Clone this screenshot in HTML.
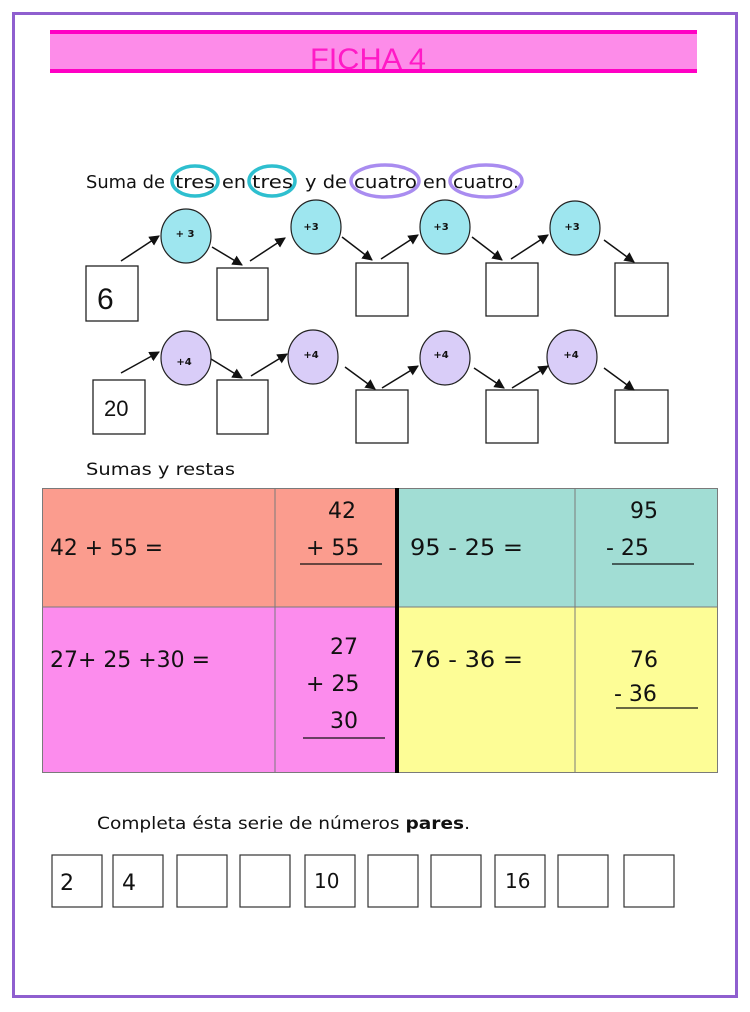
<!DOCTYPE html>
<html><head><meta charset="utf-8"><style>
html,body{margin:0;padding:0;background:#fff;}
svg{display:block}
text{font-family:"DejaVu Sans","Liberation Sans",sans-serif;fill:#111;}
</style></head><body>
<svg width="750" height="1012" viewBox="0 0 750 1012" xmlns="http://www.w3.org/2000/svg">
<defs><marker id="a" viewBox="0 0 10 10" refX="9" refY="5" markerWidth="7" markerHeight="7" orient="auto"><path d="M0,0 L10,5 L0,10 z" fill="#111"/></marker></defs>
<rect x="13.5" y="13.5" width="723" height="983" fill="none" stroke="#8f5fcf" stroke-width="3"/>
<rect x="50" y="31" width="647" height="42" fill="#fd8ce9"/>
<rect x="50" y="30" width="647" height="4" fill="#ff00c4"/>
<rect x="50" y="69" width="647" height="4" fill="#ff00c4"/>
<text x="310" y="69" font-size="30" style="fill:#ff1ac6;font-family:'Liberation Sans',sans-serif" textLength="116" lengthAdjust="spacingAndGlyphs">FICHA 4</text>

<g font-size="18">
<text x="86" y="188" textLength="79" lengthAdjust="spacingAndGlyphs">Suma de</text>
<text x="175" y="188" textLength="40" lengthAdjust="spacingAndGlyphs">tres</text>
<text x="222" y="188" textLength="24" lengthAdjust="spacingAndGlyphs">en</text>
<text x="252" y="188" textLength="41" lengthAdjust="spacingAndGlyphs">tres</text>
<text x="305" y="188" textLength="42" lengthAdjust="spacingAndGlyphs">y de</text>
<text x="354" y="188" textLength="63" lengthAdjust="spacingAndGlyphs">cuatro</text>
<text x="423" y="188" textLength="24" lengthAdjust="spacingAndGlyphs">en</text>
<text x="453" y="188" textLength="66" lengthAdjust="spacingAndGlyphs">cuatro.</text>
</g>
<ellipse cx="195" cy="181" rx="23" ry="15" fill="none" stroke="#2ebfcf" stroke-width="3.5"/>
<ellipse cx="272" cy="181" rx="23" ry="15" fill="none" stroke="#2ebfcf" stroke-width="3.5"/>
<ellipse cx="385" cy="181" rx="34" ry="16" fill="none" stroke="#a98cf0" stroke-width="3.5"/>
<ellipse cx="486" cy="181" rx="36" ry="16" fill="none" stroke="#a98cf0" stroke-width="3.5"/>

<g stroke="#222" stroke-width="1.2">
<ellipse cx="186" cy="236" rx="25" ry="27" fill="#9ee6ef"/>
<ellipse cx="316" cy="227" rx="25" ry="27" fill="#9ee6ef"/>
<ellipse cx="445" cy="227" rx="25" ry="27" fill="#9ee6ef"/>
<ellipse cx="575" cy="228" rx="25" ry="27" fill="#9ee6ef"/>
<ellipse cx="186" cy="358" rx="25" ry="27" fill="#d9cdf8"/>
<ellipse cx="313" cy="357" rx="25" ry="27" fill="#d9cdf8"/>
<ellipse cx="445" cy="358" rx="25" ry="27" fill="#d9cdf8"/>
<ellipse cx="572" cy="357" rx="25" ry="27" fill="#d9cdf8"/>
</g>
<g fill="#fff" stroke="#222" stroke-width="1.3">
<rect x="86" y="266" width="52" height="55"/><rect x="217" y="268" width="51" height="52"/>
<rect x="356" y="263" width="52" height="53"/><rect x="486" y="263" width="52" height="53"/><rect x="615" y="263" width="53" height="53"/>
<rect x="93" y="380" width="52" height="54"/><rect x="217" y="380" width="51" height="54"/>
<rect x="356" y="390" width="52" height="53"/><rect x="486" y="390" width="52" height="53"/><rect x="615" y="390" width="53" height="53"/>
</g>
<g stroke="#111" stroke-width="1.5" marker-end="url(#a)">
<line x1="121" y1="261" x2="159" y2="236"/><line x1="212" y1="247" x2="242" y2="265"/>
<line x1="250" y1="261" x2="285" y2="238"/><line x1="342" y1="237" x2="372" y2="260"/>
<line x1="381" y1="259" x2="418" y2="235"/><line x1="472" y1="237" x2="502" y2="260"/>
<line x1="511" y1="259" x2="548" y2="235"/><line x1="604" y1="240" x2="634" y2="262"/>
<line x1="121" y1="373" x2="159" y2="352"/><line x1="211" y1="359" x2="242" y2="378"/>
<line x1="251" y1="376" x2="287" y2="354"/><line x1="345" y1="367" x2="375" y2="389"/>
<line x1="382" y1="388" x2="418" y2="366"/><line x1="474" y1="368" x2="504" y2="388"/>
<line x1="512" y1="388" x2="548" y2="366"/><line x1="604" y1="368" x2="634" y2="390"/>
</g>
<g font-size="10" font-weight="bold" text-anchor="middle">
<text x="185" y="237">+ 3</text><text x="311" y="230">+3</text><text x="441" y="230">+3</text><text x="572" y="230">+3</text>
<text x="184" y="365">+4</text><text x="311" y="358">+4</text><text x="441" y="358">+4</text><text x="571" y="358">+4</text>
</g>
<text x="97" y="309" font-size="30" style="font-family:'Liberation Sans',sans-serif">6</text>
<text x="104" y="416" font-size="22" style="font-family:'Liberation Sans',sans-serif">20</text>

<text x="86" y="475" font-size="17" textLength="149" lengthAdjust="spacingAndGlyphs">Sumas y restas</text>
<rect x="42" y="488" width="355" height="119" fill="#fb9c8e"/>
<rect x="397" y="488" width="321" height="119" fill="#a1ddd4"/>
<rect x="42" y="607" width="355" height="166" fill="#fc8ced"/>
<rect x="397" y="607" width="321" height="166" fill="#fdfd96"/>
<g stroke="#7a7a7a" stroke-width="1" fill="none">
<rect x="42.5" y="488.5" width="675" height="284"/>
<line x1="275" y1="488" x2="275" y2="773"/><line x1="575" y1="488" x2="575" y2="773"/>
<line x1="42" y1="607" x2="718" y2="607"/>
</g>
<line x1="397" y1="488" x2="397" y2="773" stroke="#000" stroke-width="4"/>
<g font-size="22">
<text x="50" y="555" textLength="113" lengthAdjust="spacingAndGlyphs">42 + 55 =</text>
<text x="328" y="518">42</text><text x="306" y="555">+ 55</text>
<text x="410" y="555" textLength="113" lengthAdjust="spacingAndGlyphs">95 - 25 =</text>
<text x="630" y="518">95</text><text x="606" y="555">-  25</text>
<text x="50" y="667" textLength="160" lengthAdjust="spacingAndGlyphs">27+ 25 +30 =</text>
<text x="330" y="654">27</text><text x="306" y="691">+ 25</text><text x="330" y="728">30</text>
<text x="410" y="667" textLength="113" lengthAdjust="spacingAndGlyphs">76 - 36 =</text>
<text x="630" y="667">76</text><text x="614" y="701">- 36</text>
</g>
<g stroke="#111" stroke-width="1.2">
<line x1="300" y1="564" x2="382" y2="564"/><line x1="612" y1="564" x2="694" y2="564"/>
<line x1="303" y1="738" x2="385" y2="738"/><line x1="616" y1="708" x2="698" y2="708"/>
</g>

<text x="97" y="829" font-size="17" textLength="373" lengthAdjust="spacingAndGlyphs">Completa ésta serie de  números <tspan font-weight="bold">pares</tspan>.</text>
<g fill="#fff" stroke="#333" stroke-width="1.2">
<rect x="52" y="855" width="50" height="52"/><rect x="113" y="855" width="50" height="52"/>
<rect x="177" y="855" width="50" height="52"/><rect x="240" y="855" width="50" height="52"/>
<rect x="305" y="855" width="50" height="52"/><rect x="368" y="855" width="50" height="52"/>
<rect x="431" y="855" width="50" height="52"/><rect x="495" y="855" width="50" height="52"/>
<rect x="558" y="855" width="50" height="52"/><rect x="624" y="855" width="50" height="52"/>
</g>
<g style="font-family:'Liberation Sans',sans-serif" font-size="22">
<text x="60" y="890">2</text><text x="122" y="890">4</text>
<text x="314" y="888" font-size="20">10</text><text x="505" y="888" font-size="20">16</text>
</g>
</svg>
</body></html>
